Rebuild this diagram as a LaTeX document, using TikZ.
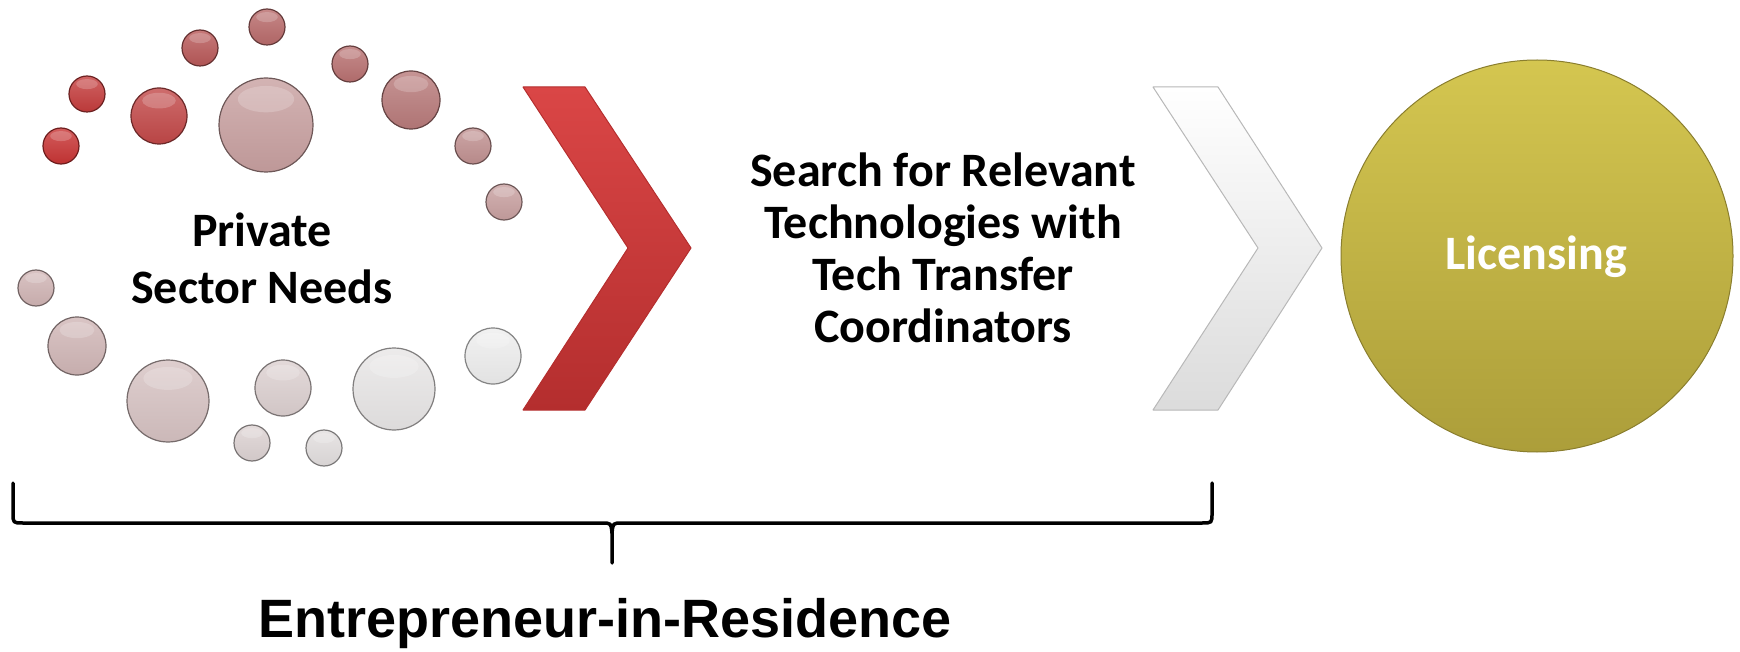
\documentclass[tikz,border=0pt]{standalone}
\usepackage{fontspec}
\setmainfont{Carlito}
\newfontfamily\arialfont{Liberation Sans}
\usetikzlibrary{calc}
\usetikzlibrary{positioning}

\definecolor{chevred}{RGB}{218,70,70}
\definecolor{chevreddark}{RGB}{180,46,46}
\definecolor{licyellow}{RGB}{212,198,80}
\definecolor{licyellowdark}{RGB}{172,158,58}

\tikzset{
  steptext/.style={font=\bfseries\fontsize{48}{52}\selectfont, align=center, inner sep=0pt},
  bracepen/.style={line width=3.5pt, line cap=round, line join=round},
}

\begin{document}
\begin{tikzpicture}[x=1pt,y=-1pt]
\useasboundingbox (0,0) rectangle (1740,652);
% ring of bubbles
\foreach \x/\y/\r/\c in {267/27/18/B86A6A, 200/48/18/B85858, 350/64/18/B87070,
  87/94/18/C43C3C, 159/116/28/C24848, 266/125/47/C8A0A0, 411/100/29/B87A7A,
  61/146/18/C83434, 473/146/18/C09090, 504/202/18/C8A0A0, 36/288/18/D0B4B4,
  77/346/29/D0B6B6, 168/401/41/D6C2C2, 283/388/28/DCD0D0, 394/389/41/E8E6E6,
  493/356/28/EEEEEE, 252/443/18/DCD2D2, 324/448/18/E2DEDE} {
  \definecolor{bc}{HTML}{\c}
  \shade[top color=bc!80!white, bottom color=bc!95!black] (\x,\y) circle (\r);
  \fill[white, opacity=.2] (\x,\y-0.55*\r) ellipse (0.6*\r pt and 0.28*\r pt);
  \draw[bc!55!black, line width=1.2pt] (\x,\y) circle (\r);
}
\node[steptext, font=\bfseries\fontsize{48}{57}\selectfont] (needs) at (262,258) {Private\\Sector Needs};

% chevrons
\shade[top color=chevred, bottom color=chevreddark, draw=chevreddark, line width=1pt, line join=round]
  (523,87) -- (585,87) -- (691,248) -- (585,410) -- (523,410) -- (628,248) -- cycle;
\shade[top color=white, bottom color=white!86!black, draw=white!72!black, line width=1pt, line join=round]
  (1153,87) -- (1218,87) -- (1322,248) -- (1218,410) -- (1153,410) -- (1258,248) -- cycle;

\node[steptext] (search) at (943,248) {Search for Relevant\\Technologies with\\Tech Transfer\\Coordinators};

\node[circle, minimum size=392pt, inner sep=0pt, top color=licyellow, bottom color=licyellowdark,
  draw=licyellowdark!80!black, line width=1pt] (lic) at (1537,256) {};
\node[steptext, text=white] (lictext) at (1536,257) {Licensing};

% brace under the first two steps
\coordinate (bl) at (13,483);
\coordinate (br) at (1212,483);
\coordinate (bt) at (612,563);
\draw[bracepen] (bl) -- ($(bl)+(0,30)$) .. controls ($(bl)+(0,40)$) .. ($(bl)+(10,40)$)
  -- ($(bt)+(-10,-40)$) .. controls ($(bt)+(-1,-40)$) .. ($(bt)+(0,-30)$) -- (bt);
\draw[bracepen] (br) -- ($(br)+(0,30)$) .. controls ($(br)+(0,40)$) .. ($(br)+(-10,40)$)
  -- ($(bt)+(10,-40)$) .. controls ($(bt)+(1,-40)$) .. ($(bt)+(0,-30)$);
\node[font=\arialfont\bfseries\fontsize{54}{60}\selectfont, inner sep=0pt] (eir) at (605,624) {Entrepreneur-in-Residence};
\end{tikzpicture}
\end{document}
